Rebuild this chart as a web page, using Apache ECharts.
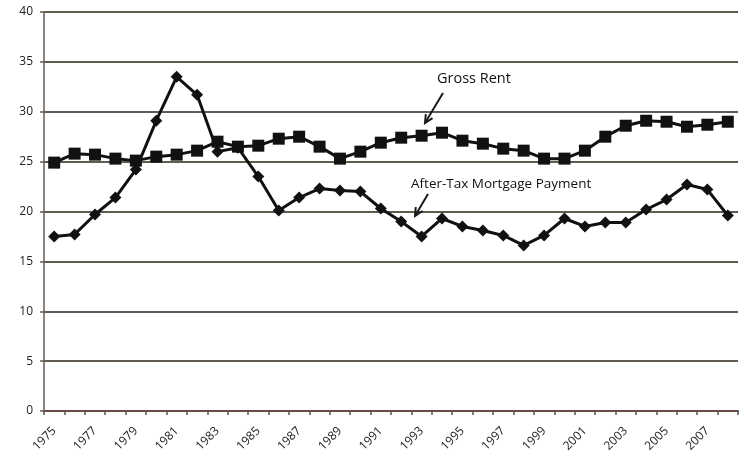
<!DOCTYPE html>
<html>
<head>
<meta charset="utf-8">
<script src="https://cdn.jsdelivr.net/npm/echarts@6/dist/echarts.min.js"></script>
<style>
  html, body { margin: 0; padding: 0; background: #ffffff; }
  #chart { width: 739px; height: 453px; }
</style>
</head>
<body>
<div id="chart"></div>
<script>
// Years on the horizontal axis
const years = [
  '1975','1976','1977','1978','1979','1980','1981','1982','1983','1984',
  '1985','1986','1987','1988','1989','1990','1991','1992','1993','1994',
  '1995','1996','1997','1998','1999','2000','2001','2002','2003','2004',
  '2005','2006','2007','2008'
];

// Gross rent (square markers)
const grossRent = [
  24.9, 25.8, 25.7, 25.3, 25.1, 25.5, 25.7, 26.1, 27.0, 26.5,
  26.6, 27.3, 27.5, 26.5, 25.3, 26.0, 26.9, 27.4, 27.6, 27.9,
  27.1, 26.8, 26.3, 26.1, 25.3, 25.3, 26.1, 27.5, 28.6, 29.1,
  29.0, 28.5, 28.7, 29.0
];

// After-tax mortgage payment (diamond markers)
const mortgagePayment = [
  17.5, 17.7, 19.7, 21.4, 24.2, 29.1, 33.5, 31.7, 26.0, 26.4,
  23.5, 20.1, 21.4, 22.3, 22.1, 22.0, 20.3, 19.0, 17.5, 19.3,
  18.5, 18.1, 17.6, 16.6, 17.6, 19.3, 18.5, 18.9, 18.9, 20.2,
  21.2, 22.7, 22.2, 19.6
];

const yTicks = { min: 0, max: 40, interval: 5 };

const chart = echarts.init(document.getElementById('chart'));
const gridColor = '#625b52';
const ink = '#111111';

function arrow(x1, y1, x2, y2) {
  // shaft plus an open V head pointing at (x2, y2)
  const ang = Math.atan2(y2 - y1, x2 - x1);
  const len = 9, spread = 0.45;
  const a = [x2 - len * Math.cos(ang - spread), y2 - len * Math.sin(ang - spread)];
  const b = [x2 - len * Math.cos(ang + spread), y2 - len * Math.sin(ang + spread)];
  return [
    { type: 'line', shape: { x1, y1, x2, y2 }, style: { stroke: '#1a1a1a', lineWidth: 2 }, z: 100 },
    { type: 'polyline', shape: { points: [a, [x2, y2], b] }, style: { stroke: '#1a1a1a', lineWidth: 2, fill: null }, z: 100 }
  ];
}

chart.setOption({
  animation: false,
  backgroundColor: '#ffffff',
  grid: { left: 44, right: 1, top: 12, bottom: 42, containLabel: false, outerBoundsMode: 'none' },
  xAxis: {
    type: 'category',
    data: years,
    boundaryGap: true,
    axisLine: { lineStyle: { color: '#6b4b45', width: 2 } },
    axisTick: { show: true, interval: 0, length: 4, lineStyle: { color: '#555', width: 1.5 } },
    axisLabel: {
      interval: 1,
      rotate: 45,
      margin: 18,
      fontFamily: 'Open Sans',
      fontSize: 12,
      color: '#222'
    },
    splitLine: { show: false }
  },
  yAxis: {
    type: 'value',
    min: yTicks.min,
    max: yTicks.max,
    interval: yTicks.interval,
    axisLine: { show: true, lineStyle: { color: gridColor, width: 1.5 } },
    axisTick: { show: true, length: 4, lineStyle: { color: gridColor, width: 1.5 } },
    axisLabel: { fontFamily: 'Open Sans', fontSize: 12, color: '#222', margin: 11 },
    splitLine: { show: true, lineStyle: { color: gridColor, width: 2 } }
  },
  series: [
    {
      name: 'Gross Rent',
      type: 'line',
      data: grossRent,
      symbol: 'rect',
      symbolSize: 12,
      lineStyle: { color: ink, width: 3 },
      itemStyle: { color: ink },
      z: 3
    },
    {
      name: 'After-Tax Mortgage Payment',
      type: 'line',
      data: mortgagePayment,
      symbol: 'diamond',
      symbolSize: 12,
      lineStyle: { color: ink, width: 3 },
      itemStyle: { color: ink },
      z: 4
    }
  ],
  graphic: [
    { type: 'text', left: 437, top: 71, style: { text: 'Gross Rent', font: '14.5px "Open Sans"', fill: '#111' }, z: 100 },
    { type: 'text', left: 411, top: 177, style: { text: 'After-Tax Mortgage Payment', font: '13.5px "Open Sans"', fill: '#111' }, z: 100 }
  ].concat(arrow(443, 93, 425, 123), arrow(428, 194, 415, 216))
});
</script>
</body>
</html>
